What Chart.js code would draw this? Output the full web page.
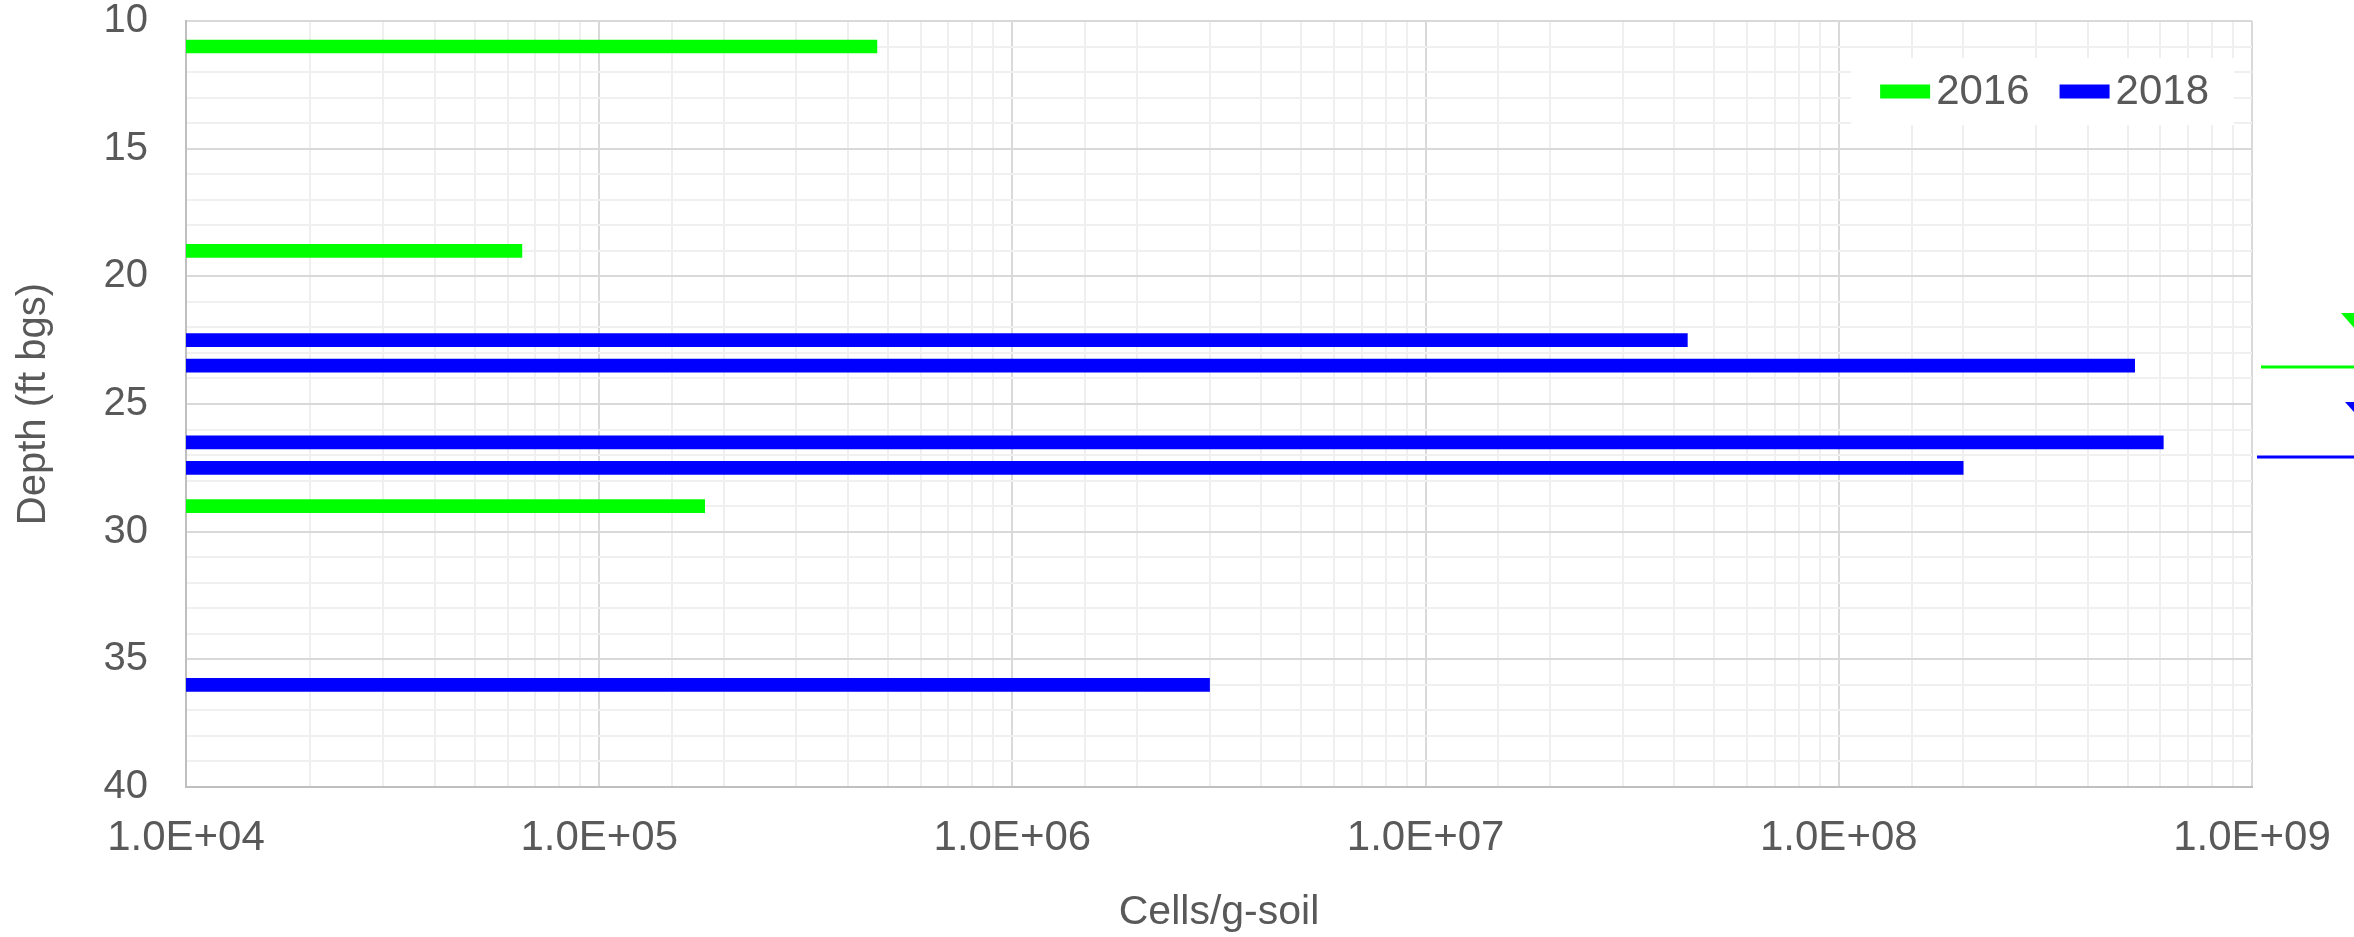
<!DOCTYPE html>
<html>
<head>
<meta charset="utf-8">
<script src="https://cdn.jsdelivr.net/npm/chart.js@4.4.1/dist/chart.umd.min.js"></script>
<style>
  html, body { margin: 0; padding: 0; background: #fff; }
  #wrap { width: 2354px; height: 937px; position: relative; }
</style>
</head>
<body>
<div id="wrap"><canvas id="grafik"></canvas></div>
<script>
// depth (ft bgs) of each sample, and cells/g-soil measured there
const depths2016 = [11, 19, 29];
const cells2016 = [4.7e5, 6.5e4, 1.8e5];
const depths2018 = [22.5, 23.5, 26.5, 27.5, 36];
const cells2018 = [4.3e7, 5.2e8, 6.1e8, 2.0e8, 3.0e6];
const seriesLabels = ["2016", "2018"];
const seriesColors = ["#00ff00", "#0000ff"];
const depthTicks = [10, 15, 20, 25, 30, 35, 40];
const cellTicks = [1e4, 1e5, 1e6, 1e7, 1e8, 1e9];

const fontFamily = "'Liberation Sans', Arial, sans-serif";
const textColor = "#595959";
Chart.defaults.font.family = fontFamily;
Chart.defaults.color = textColor;

const isCellTick = (v) => cellTicks.some((t) => Math.abs(t - v) / t < 1e-6);
const isDepthTick = (v) => depthTicks.includes(v);

// legend in a white box, top right of the plot
const legendBox = {
  id: "legendBox",
  afterDraw(chart) {
    const { ctx, chartArea } = chart;
    ctx.save();
    ctx.font = "42px " + fontFamily;
    const sw = 50, sh = 14, gap = 6, between = 30, padL = 29, padR = 25, boxH = 67;
    const items = chart.data.datasets.map((ds) => ({
      label: ds.label,
      color: ds.backgroundColor,
      w: ctx.measureText(ds.label).width,
    }));
    const boxW = padL + padR + items.reduce((s, it) => s + sw + gap + it.w, 0) + between * (items.length - 1);
    const right = chartArea.right - 18;
    const top = chartArea.top + 37;
    const left = right - boxW;
    ctx.fillStyle = "#ffffff";
    ctx.fillRect(left, top, boxW, boxH);
    const cy = top + boxH / 2;
    let x = left + padL;
    ctx.textBaseline = "middle";
    ctx.textAlign = "left";
    items.forEach((it) => {
      ctx.fillStyle = it.color;
      ctx.fillRect(x, cy - sh / 2, sw, sh);
      x += sw + gap;
      ctx.fillStyle = textColor;
      ctx.fillText(it.label, x, cy + 1);
      x += it.w + between;
    });
    ctx.restore();
  },
};

// bits of markers cut off at the right edge of the picture
const edgeMarks = {
  id: "edgeMarks",
  afterDraw(chart) {
    const { ctx, chartArea, scales } = chart;
    const r = chartArea.right;
    const W = chart.width;
    ctx.save();
    const tri = (x0, d, color) => {
      const y0 = scales.y.getPixelForValue(d);
      ctx.fillStyle = color;
      ctx.beginPath();
      ctx.moveTo(x0, y0);
      ctx.lineTo(x0 + 32, y0);
      ctx.lineTo(x0 + 16, y0 + 18);
      ctx.closePath();
      ctx.fill();
    };
    const line = (x0, d, color) => {
      const y0 = scales.y.getPixelForValue(d);
      ctx.strokeStyle = color;
      ctx.lineWidth = 3;
      ctx.beginPath();
      ctx.moveTo(x0, y0);
      ctx.lineTo(W, y0);
      ctx.stroke();
    };
    tri(r + 89, 21.44, seriesColors[0]);
    line(r + 9, 23.55, seriesColors[0]);
    tri(r + 93, 24.92, seriesColors[1]);
    line(r + 5, 27.08, seriesColors[1]);
    ctx.restore();
  },
};

const grafik = document.getElementById("grafik");
const chart = new Chart(grafik, {
  type: "bar",
  data: {
    datasets: [
      {
        label: seriesLabels[0],
        data: depths2016.map((d, i) => ({ x: cells2016[i], y: d })),
        backgroundColor: seriesColors[0],
        borderWidth: 0,
      },
      {
        label: seriesLabels[1],
        data: depths2018.map((d, i) => ({ x: cells2018[i], y: d })),
        backgroundColor: seriesColors[1],
        borderWidth: 0,
      },
    ],
  },
  options: {
    indexAxis: "y",
    responsive: true,
    maintainAspectRatio: false,
    animation: false,
    layout: { padding: { top: 21, right: 102, left: 0, bottom: 0 } },
    datasets: {
      bar: { grouped: false, barThickness: 13, maxBarThickness: 13 },
    },
    plugins: {
      legend: { display: false },
      tooltip: { enabled: false },
    },
    scales: {
      x: {
        type: "logarithmic",
        position: "bottom",
        min: cellTicks[0],
        max: cellTicks[cellTicks.length - 1],
        afterFit: (scale) => {
          scale.height = 150;
        },
        grid: {
          drawTicks: true,
          tickLength: 26,
          tickColor: "rgba(0,0,0,0)",
          lineWidth: 2,
          color: (c) => (c.tick && isCellTick(c.tick.value) ? "#d9d9d9" : "#efefef"),
        },
        border: { display: true, color: "#bfbfbf", width: 2 },
        ticks: {
          autoSkip: false,
          maxRotation: 0,
          padding: 0,
          color: textColor,
          font: { size: 42 },
          callback: (v) => {
            if (!isCellTick(v)) return "";
            const e = Math.round(Math.log10(v));
            return "1.0E+" + String(e).padStart(2, "0");
          },
        },
        title: {
          display: true,
          text: "Cells/g-soil",
          color: textColor,
          font: { size: 41 },
          padding: { top: 0, bottom: 0 },
        },
      },
      y: {
        type: "linear",
        reverse: true,
        offset: false,
        min: depthTicks[0],
        max: depthTicks[depthTicks.length - 1],
        afterFit: (scale) => {
          scale.width = 186;
        },
        grid: {
          offset: false,
          drawTicks: true,
          tickLength: 38,
          tickColor: "rgba(0,0,0,0)",
          lineWidth: 2,
          color: (c) => (c.tick && isDepthTick(c.tick.value) ? "#d9d9d9" : "#f0f0f0"),
        },
        border: { display: true, color: "#bfbfbf", width: 2 },
        ticks: {
          stepSize: 1,
          autoSkip: false,
          padding: 0,
          color: textColor,
          font: { size: 40, lineHeight: 1 },
          callback: (v) => (isDepthTick(v) ? String(v) : ""),
        },
        title: {
          display: true,
          text: "Depth (ft bgs)",
          color: textColor,
          font: { size: 40 },
          padding: { top: 10, bottom: 0 },
        },
      },
    },
  },
  plugins: [legendBox, edgeMarks],
});
</script>
</body>
</html>
